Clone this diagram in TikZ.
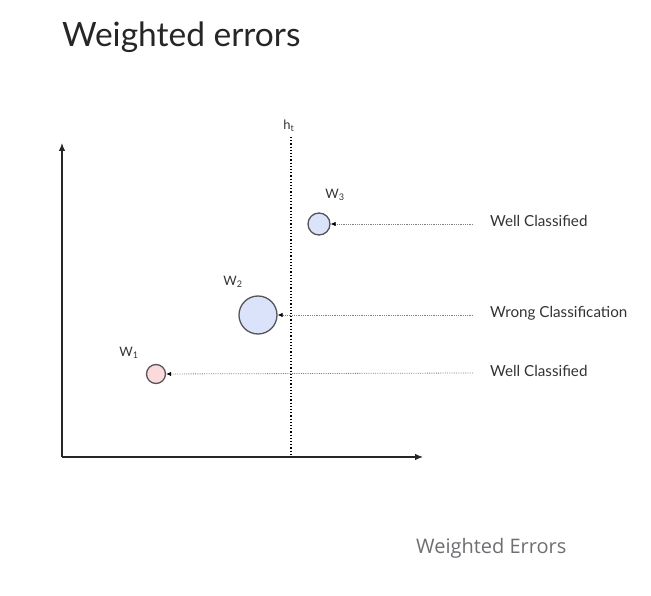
\documentclass[tikz,border=0pt]{standalone}
\usepackage{fontspec}
\setmainfont{Lato}
\newfontfamily\capfont{Open Sans}
\usetikzlibrary{arrows.meta}
\definecolor{PtBlue}{RGB}{218,227,250}
\definecolor{PtPink}{RGB}{250,218,218}
\definecolor{PtEdge}{RGB}{85,85,90}
\definecolor{CapGray}{RGB}{110,110,115}

\begin{document}
\begin{tikzpicture}[x=1pt, y=-1pt]
	\tikzstyle{pt} = [draw=PtEdge, line width=1.3pt, circle, inner sep=0pt]
	\tikzstyle{wlbl} = [font=\fontsize{13}{15}\selectfont, text=black!80, inner sep=0pt]
	\tikzstyle{cls} = [font=\fontsize{15.2}{18}\selectfont, text=black!80, anchor=west, inner sep=0pt]
	\tikzstyle{ptr} = [gray, densely dotted, line width=0.8pt, -{Latex[length=5pt,width=4.5pt,black]}]
	\tikzstyle{axis} = [black!85, line width=1.2pt, -{Latex[length=8pt,width=6.5pt]}]
	\useasboundingbox (0,0) rectangle (651,596);

	\node[anchor=base west, inner sep=0pt, font=\fontsize{33.5}{40}\selectfont, text=black!85] (title) at (62,47) {Weighted errors};

	\coordinate (o) at (62,457);
	\coordinate (ytop) at (62,143);
	\coordinate (xend) at (423,457);
	\draw[axis] (o) -- (ytop);
	\draw[axis] (o) -- (xend);

	\coordinate (htop) at (291,137);
	\coordinate (hbot) at (291,457);
	\draw[dotted, line width=1.2pt] (htop) -- (hbot);
	\node[wlbl] (ht) at (289,126) {h\textsubscript{t}};

	\node[pt, fill=PtBlue, minimum size=22pt] (w3) at (319,224) {};
	\node[pt, fill=PtBlue, minimum size=38pt] (w2) at (258,315) {};
	\node[pt, fill=PtPink, minimum size=19pt] (w1) at (156,374) {};

	\node[wlbl] (w3l) at (335,195) {W\textsubscript{3}};
	\node[wlbl] (w2l) at (233,282) {W\textsubscript{2}};
	\node[wlbl] (w1l) at (129,353) {W\textsubscript{1}};

	\node[cls] (c3) at (490,221) {Well Classified};
	\node[cls] (c2) at (490,313) {Wrong Classification};
	\node[cls] (c1) at (490,371) {Well Classified};

	\coordinate (s3) at (473,224);
	\coordinate (s2) at (473,315);
	\coordinate (s1) at (473,373);
	\draw[ptr] (s3) -- (w3);
	\draw[ptr] (s2) -- (w2);
	\draw[ptr] (s1) -- (w1);

	\node[anchor=base west, inner sep=0pt, font=\capfont\fontsize{20}{24}\selectfont, text=CapGray] (cap) at (416,553) {Weighted Errors};
\end{tikzpicture}
\end{document}
